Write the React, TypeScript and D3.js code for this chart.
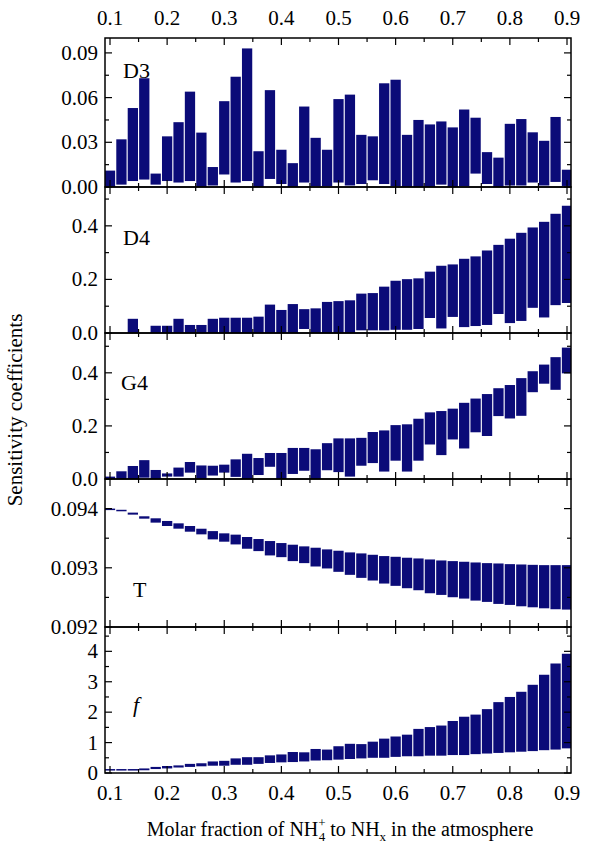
import { useEffect, useRef } from 'react';
import * as d3 from 'd3';

const xs = d3.range(41).map((i) => +(0.1 + 0.02 * i).toFixed(2));

const d3Max = [0.011, 0.032, 0.053, 0.073, 0.009, 0.034, 0.0435, 0.064, 0.0365, 0.0134, 0.0576, 0.074, 0.093, 0.024, 0.065, 0.025, 0.016, 0.054, 0.033, 0.025, 0.059, 0.062, 0.035, 0.034, 0.0696, 0.072, 0.035, 0.045, 0.042, 0.044, 0.04, 0.052, 0.0465, 0.0234, 0.0197, 0.0424, 0.0456, 0.0367, 0.031, 0.047, 0.0116];
const d3Min = [0, 0.0016, 0.004, 0.005, 0.0016, 0.004, 0.003, 0.004, 0, 0.001, 0.0084, 0.003, 0.004, 0, 0.0054, 0.002, 0, 0.003, 0.0005, 0.0005, 0.003, 0.001, 0.002, 0.0045, 0.002, 0.0005, 0, 0, 0, 0.0016, 0, 0.0005, 0.009, 0.002, 0, 0.001, 0.001, 0.003, 0.001, 0.0034, 0.0007];

const d4Max = [0, 0, 0.053, 0, 0.027, 0.027, 0.053, 0.03, 0.03, 0.053, 0.057, 0.057, 0.057, 0.061, 0.106, 0.086, 0.108, 0.089, 0.092, 0.116, 0.119, 0.122, 0.147, 0.149, 0.173, 0.195, 0.201, 0.204, 0.229, 0.251, 0.256, 0.277, 0.286, 0.308, 0.329, 0.352, 0.374, 0.394, 0.415, 0.445, 0.475];
const d4Min = [0, 0, 0, 0, 0, 0, 0, 0, 0, 0, 0, 0, 0, 0, 0, 0, 0, 0.015, 0, 0, 0, 0, 0.01, 0.01, 0.01, 0.012, 0.012, 0.015, 0.056, 0.017, 0.06, 0.022, 0.026, 0.03, 0.071, 0.037, 0.045, 0.094, 0.058, 0.104, 0.112];

const g4Max = [0.009, 0.029, 0.049, 0.071, 0.034, 0.021, 0.043, 0.064, 0.051, 0.05, 0.054, 0.074, 0.095, 0.079, 0.098, 0.098, 0.117, 0.117, 0.112, 0.135, 0.153, 0.153, 0.155, 0.177, 0.183, 0.203, 0.206, 0.227, 0.251, 0.256, 0.265, 0.287, 0.303, 0.32, 0.342, 0.354, 0.38, 0.406, 0.431, 0.459, 0.495];
const g4Min = [0, 0, 0, 0.005, 0, 0.009, 0.009, 0.024, 0, 0.013, 0.024, 0.008, 0, 0.015, 0.046, 0, 0.019, 0.031, 0, 0.033, 0.026, 0.009, 0.05, 0.06, 0.028, 0.069, 0.028, 0.069, 0.13, 0.09, 0.149, 0.115, 0.176, 0.162, 0.237, 0.228, 0.238, 0.327, 0.359, 0.336, 0.398];

const tMax = [0.094, 0.09398, 0.093932, 0.09387, 0.093836, 0.093791, 0.093751, 0.093706, 0.09366, 0.09362, 0.093582, 0.09356, 0.09352, 0.093486, 0.093452, 0.093418, 0.09339, 0.093362, 0.093339, 0.093311, 0.093288, 0.09326, 0.093243, 0.09322, 0.093198, 0.093186, 0.09317, 0.093158, 0.093141, 0.093124, 0.093113, 0.093102, 0.09309, 0.093079, 0.093073, 0.093062, 0.093056, 0.09305, 0.093045, 0.093045, 0.093045];
const tMin = [0.093995, 0.09397, 0.093898, 0.09383, 0.093763, 0.093706, 0.093661, 0.09361, 0.093565, 0.09348, 0.093441, 0.093395, 0.093322, 0.093282, 0.093209, 0.09318, 0.093113, 0.093079, 0.093022, 0.092989, 0.092932, 0.092881, 0.09283, 0.092785, 0.092734, 0.092695, 0.092655, 0.092621, 0.09257, 0.092542, 0.092503, 0.09248, 0.092446, 0.092424, 0.09239, 0.092373, 0.09235, 0.092333, 0.092316, 0.0923, 0.092294];

const fMax = [0.13, 0.13, 0.13, 0.15, 0.2, 0.23, 0.25, 0.3, 0.32, 0.38, 0.4, 0.48, 0.52, 0.52, 0.58, 0.61, 0.69, 0.68, 0.79, 0.77, 0.88, 0.96, 0.95, 1.03, 1.13, 1.2, 1.26, 1.45, 1.51, 1.56, 1.71, 1.85, 1.92, 2.1, 2.33, 2.5, 2.67, 2.9, 3.23, 3.6, 3.92];
const fMin = [0.08, 0.08, 0.08, 0.09, 0.13, 0.15, 0.18, 0.2, 0.22, 0.24, 0.24, 0.27, 0.27, 0.3, 0.33, 0.35, 0.36, 0.38, 0.41, 0.42, 0.44, 0.46, 0.48, 0.5, 0.5, 0.53, 0.55, 0.55, 0.57, 0.57, 0.59, 0.59, 0.62, 0.64, 0.66, 0.68, 0.7, 0.72, 0.75, 0.77, 0.81];

const panels = [
  { name: 'D3', max: d3Max, min: d3Min, domain: [0, 0.1], ticks: [0, 0.03, 0.06, 0.09], step: 0.015, fmt: '.2f', label: [123, 78], italic: false },
  { name: 'D4', max: d4Max, min: d4Min, domain: [0, 0.545], ticks: [0, 0.2, 0.4], step: 0.1, fmt: '.1f', label: [123, 245], italic: false },
  { name: 'G4', max: g4Max, min: g4Min, domain: [0, 0.55], ticks: [0, 0.2, 0.4], step: 0.1, fmt: '.1f', label: [121, 390], italic: false },
  { name: 'T', max: tMax, min: tMin, domain: [0.092, 0.0945], ticks: [0.092, 0.093, 0.094], step: 0.0005, fmt: '.3f', label: [133, 597], italic: false },
  { name: 'f', max: fMax, min: fMin, domain: [0, 4.8], ticks: [0, 1, 2, 3, 4], step: 0.5, fmt: 'd', label: [133, 712], italic: true },
];

const bounds = [38, 187, 333, 479, 627, 773];

export default function App() {
  const ref = useRef<SVGSVGElement>(null);

  useEffect(() => {
    const svg = d3.select(ref.current);
    svg.selectAll('*').remove();
    const left = 105;
    const right = 571;
    const font = "'Liberation Serif', 'Times New Roman', serif";
    const color = '#0b0b78';
    const fs = 21;

    const x = d3.scaleLinear().domain([0.1, 0.9]).range([110, 567]);
    const bw = x(0.118) - x(0.1);
    const majorX = d3.range(0.1, 0.901, 0.1);
    const minorX = d3.range(0.15, 0.9, 0.1);

    panels.forEach((p, k) => {
      const top = bounds[k];
      const bottom = bounds[k + 1];
      const y = d3.scaleLinear().domain(p.domain).range([bottom, top]);
      const g = svg.append('g');
      const clipId = `clip${k}`;
      svg.append('clipPath').attr('id', clipId)
        .append('rect').attr('x', left).attr('y', top).attr('width', right - left).attr('height', bottom - top);

      g.append('g').attr('clip-path', `url(#${clipId})`)
        .selectAll('rect').data(xs).enter().append('rect')
        .attr('x', (d) => x(d) - bw / 2)
        .attr('width', bw)
        .attr('y', (_, i) => y(p.max[i]))
        .attr('height', (_, i) => Math.max(y(p.min[i]) - y(p.max[i]), p.max[i] > 0 ? 1.5 : 0))
        .attr('fill', color);

      g.append('rect').attr('x', left).attr('y', top).attr('width', right - left).attr('height', bottom - top)
        .attr('fill', 'none').attr('stroke', '#000').attr('stroke-width', 1.5);

      // y ticks
      const minorY = d3.range(p.domain[0] + p.step, p.domain[1], p.step * 2).filter((v) => v < p.domain[1]);
      const yt = [...p.ticks.map((v) => ({ v, len: 7 })), ...minorY.map((v) => ({ v, len: 4 }))];
      yt.forEach(({ v, len }) => {
        g.append('line').attr('x1', left).attr('x2', left + len).attr('y1', y(v)).attr('y2', y(v)).attr('stroke', '#000').attr('stroke-width', 1.2);
        g.append('line').attr('x1', right).attr('x2', right - len).attr('y1', y(v)).attr('y2', y(v)).attr('stroke', '#000').attr('stroke-width', 1.2);
      });
      p.ticks.forEach((v) => {
        g.append('text').attr('x', left - 7).attr('y', y(v) + 7).attr('text-anchor', 'end')
          .attr('font-family', font).attr('font-size', fs).text(d3.format(p.fmt)(v));
      });

      // x ticks
      const xt = [...majorX.map((v) => ({ v, len: 7 })), ...minorX.map((v) => ({ v, len: 4 }))];
      xt.forEach(({ v, len }) => {
        g.append('line').attr('x1', x(v)).attr('x2', x(v)).attr('y1', bottom).attr('y2', bottom - len).attr('stroke', '#000').attr('stroke-width', 1.2);
        g.append('line').attr('x1', x(v)).attr('x2', x(v)).attr('y1', top).attr('y2', top + len).attr('stroke', '#000').attr('stroke-width', 1.2);
      });

      g.append('text').attr('x', p.label[0]).attr('y', p.label[1])
        .attr('font-family', font).attr('font-size', 22)
        .attr('font-style', p.italic ? 'italic' : 'normal').text(p.name);
    });

    majorX.forEach((v) => {
      svg.append('text').attr('x', x(v)).attr('y', 25).attr('text-anchor', 'middle')
        .attr('font-family', font).attr('font-size', fs).text(d3.format('.1f')(v));
      svg.append('text').attr('x', x(v)).attr('y', 800).attr('text-anchor', 'middle')
        .attr('font-family', font).attr('font-size', fs).text(d3.format('.1f')(v));
    });

    svg.append('text').attr('transform', 'translate(22,410) rotate(-90)').attr('text-anchor', 'middle')
      .attr('font-family', font).attr('font-size', 21).text('Sensitivity coefficients');

    const xl = svg.append('text').attr('x', 340).attr('y', 836).attr('text-anchor', 'middle')
      .attr('font-family', font).attr('font-size', 20);
    xl.append('tspan').text('Molar fraction of NH');
    xl.append('tspan').attr('font-size', 13).attr('dy', -9).text('+');
    xl.append('tspan').attr('font-size', 13).attr('dx', -7).attr('dy', 14).text('4');
    xl.append('tspan').attr('dy', -5).text(' to NH');
    xl.append('tspan').attr('font-size', 13).attr('dy', 5).text('x');
    xl.append('tspan').attr('dy', -5).text(' in the atmosphere');
  }, []);

  return <svg ref={ref} width={600} height={850} style={{ position: 'absolute', left: 0, top: 0, background: '#fff' }} />;
}
